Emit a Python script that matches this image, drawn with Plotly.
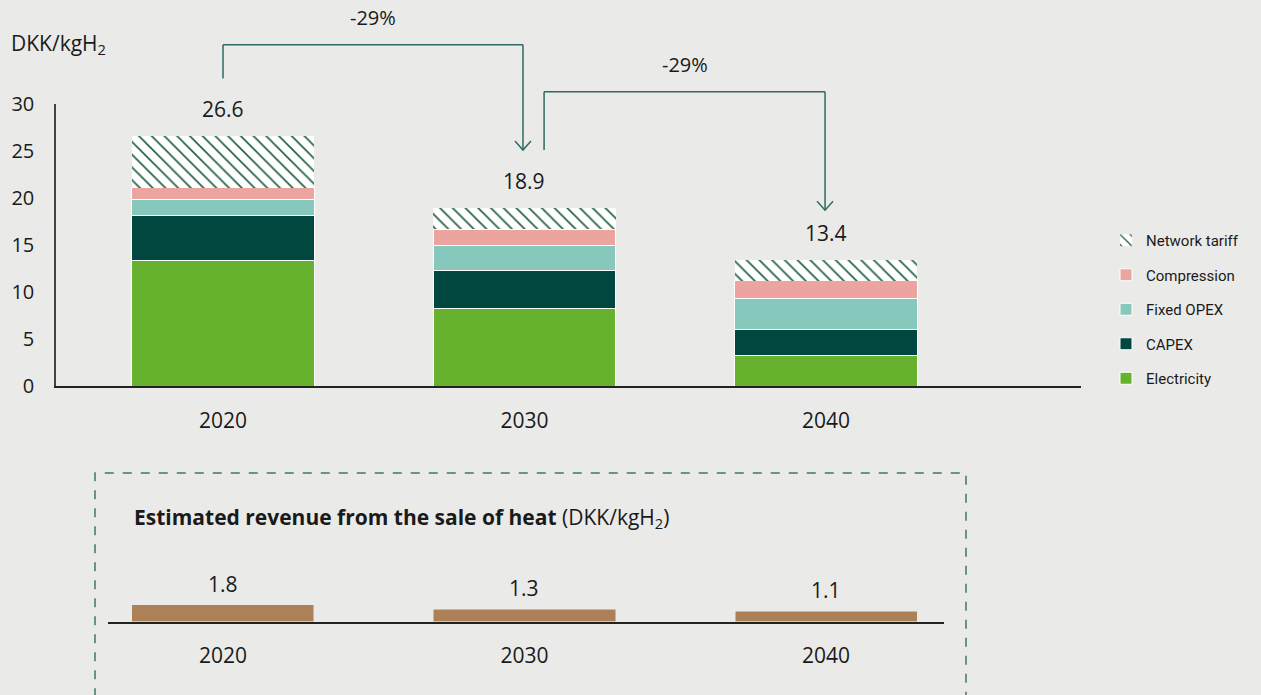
import plotly.graph_objects as go

years = ["2020", "2030", "2040"]
electricity = [13.4, 8.2, 3.2]
capex = [4.7, 4.1, 2.8]
fixed_opex = [1.7, 2.6, 3.3]
compression = [1.3, 1.8, 1.9]
network_tariff = [5.5, 2.2, 2.2]
totals = [26.6, 18.9, 13.4]
revenue = [1.8, 1.3, 1.1]
reductions = ["-29%", "-29%"]

W, H = 1261, 695
BG = "#eaebe8"
TXT = "#1a1a1a"
FONT = "Open Sans"

def px(x):
    return x / W

def py(y):
    return 1 - y / H

Y0, Y30 = 386, 104
ydom = [py(Y0), py(Y30)]

def yd(v):
    return ydom[0] + v / 30 * (ydom[1] - ydom[0])

fig = go.Figure()
series = [
    ("Electricity", electricity, "#66b22e", None, 5),
    ("CAPEX", capex, "#004740", None, 4),
    ("Fixed OPEX", fixed_opex, "#86c9bc", None, 3),
    ("Compression", compression, "#eba4a0", None, 2),
    ("Network tariff", network_tariff, "#ffffff", "\\", 1),
]
for name, vals, col, pat, rank in series:
    marker = dict(color=col, line=dict(color="white", width=1))
    if pat:
        marker["pattern"] = dict(shape=pat, fgcolor="#1f6040", bgcolor="white", fgopacity=1,
                                 size=9, solidity=0.18)
        marker["line"] = dict(color="white", width=0)
    fig.add_trace(go.Bar(x=years, y=vals, name=name, marker=marker, width=0.604,
                         legendgroup=name, legendrank=rank, xaxis="x", yaxis="y"))

fig.add_trace(go.Bar(x=years, y=revenue, marker=dict(color="#ad8157"), width=0.604,
                     showlegend=False, xaxis="x2", yaxis="y2"))

ann = []
for i, t in enumerate(totals):
    ann.append(dict(x=i, y=t, xref="x", yref="y", text=f"{t}", showarrow=False,
                    yanchor="bottom", yshift=11, font=dict(size=21, color=TXT, family=FONT)))
for i, r in enumerate(revenue):
    ann.append(dict(x=i, y=r, xref="x2", yref="y2", text=f"{r}", showarrow=False,
                    yanchor="bottom", yshift=5, font=dict(size=21, color=TXT, family=FONT)))

ann.append(dict(x=px(9), y=py(44), xref="paper", yref="paper", xanchor="left", yanchor="middle",
                text="DKK/kgH<sub>2</sub>", showarrow=False, font=dict(size=21, color=TXT, family=FONT)))
ann.append(dict(x=px(132), y=py(518), xref="paper", yref="paper", xanchor="left", yanchor="middle",
                text="<b>Estimated revenue from the sale of heat</b> (DKK/kgH<sub>2</sub>)", showarrow=False,
                font=dict(size=21, color=TXT, family=FONT)))

# arrows
AC = "#2f6b62"
arrows = [
    (0.0, 32.7, 36.3, 0.995, 25.1, reductions[0]),
    (1.065, 25.1, 31.3, 1.997, 18.7, reductions[1]),
]
shapes = []
for xs, ys, ytop, xe, ye, lab in arrows:
    for (a, b, c, d) in [(xs, ys, xs, ytop), (xs, ytop, xe, ytop), (xe, ytop, xe, ye)]:
        shapes.append(dict(type="line", xref="x", yref="paper", x0=a, x1=c, y0=yd(b), y1=yd(d),
                           line=dict(color=AC, width=1.5)))
    shapes.append(dict(type="path", xref="x", yref="paper", xsizemode="pixel", ysizemode="pixel",
                       xanchor=xe, yanchor=yd(ye), path="M-8,9 L0,0 L8,9",
                       line=dict(color=AC, width=1.5)))
    ann.append(dict(x=(xs + xe) / 2, y=yd(ytop), xref="x", yref="paper", text=lab, showarrow=False,
                    yanchor="bottom", yshift=12, font=dict(size=20, color=TXT, family=FONT)))

shapes.append(dict(type="rect", xref="paper", yref="paper", x0=px(95), x1=px(966), y0=-0.05, y1=py(473),
                   line=dict(color="#3c7a5c", width=1.5, dash="dash"), layer="below"))

fig.update_layout(
    width=W, height=H, margin=dict(l=0, r=0, t=0, b=0, pad=0, autoexpand=False),
    paper_bgcolor=BG, plot_bgcolor=BG, barmode="stack",
    font=dict(family=FONT, color=TXT),
    showlegend=True,
    legend=dict(x=px(1106), y=py(224), xanchor="left", yanchor="top", traceorder="grouped",
                tracegroupgap=12, bgcolor="rgba(0,0,0,0)", font=dict(size=15, family="Roboto", color=TXT)),
    xaxis=dict(domain=[px(56), px(1081)], range=[-0.554, 2.846], type="category", showline=True,
               linecolor="#222", linewidth=2, ticks="outside", ticklen=15, tickcolor="rgba(0,0,0,0)",
               tickfont=dict(size=21, color=TXT), showgrid=False, zeroline=False, anchor="y",
               automargin=False),
    yaxis=dict(domain=ydom, range=[0, 30], dtick=5, showline=True, linecolor="#444", linewidth=1.5,
               ticks="outside", ticklen=16, tickcolor="rgba(0,0,0,0)", tickfont=dict(size=20, color=TXT),
               showgrid=False, zeroline=False, anchor="x", automargin=False),
    xaxis2=dict(domain=[px(108), px(944)], range=[-0.381, 2.391], type="category", showline=True,
                linecolor="#222", linewidth=2, ticks="outside", ticklen=14, tickcolor="rgba(0,0,0,0)",
                tickfont=dict(size=21, color=TXT), showgrid=False, zeroline=False, anchor="y2",
                automargin=False),
    yaxis2=dict(domain=[py(621.5), py(574.5)], range=[0, 5], visible=False, anchor="x2",
                automargin=False),
    annotations=ann, shapes=shapes,
)
fig.write_html("out.html", config={"displayModeBar": False},
               post_script="document.body.style.margin='0';document.body.style.overflow='hidden';")
